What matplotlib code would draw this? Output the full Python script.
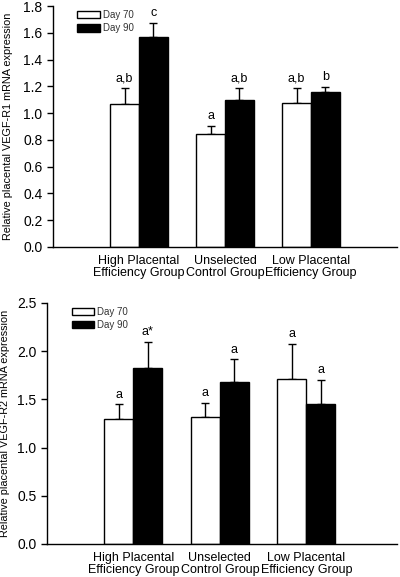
import numpy as np
import matplotlib.pyplot as plt

# ==============================
# Data
# ==============================
groups = ["High Placental\nEfficiency Group",
          "Unselected\nControl Group",
          "Low Placental\nEfficiency Group"]
series = ["Day 70", "Day 90"]

r1_day70 = [1.065, 0.845, 1.075]
r1_day70_err = [0.12, 0.06, 0.11]
r1_day90 = [1.565, 1.095, 1.155]
r1_day90_err = [0.11, 0.09, 0.04]
r1_letters_70 = ["a,b", "a", "a,b"]
r1_letters_90 = ["c", "a,b", "b"]

r2_day70 = [1.30, 1.32, 1.715]
r2_day70_err = [0.15, 0.145, 0.36]
r2_day90 = [1.83, 1.68, 1.455]
r2_day90_err = [0.265, 0.235, 0.25]
r2_letters_70 = ["a", "a", "a"]
r2_letters_90 = ["a*", "a", "a"]

plt.rcParams['font.family'] = ['Liberation Sans', 'DejaVu Sans']


def draw_panel(ax, v70, e70, v90, e90, l70, l90, ymax, ystep, ylabel, xmax):
    x = np.arange(1, len(groups) + 1)
    w = 0.335
    ax.bar(x - w / 2, v70, w, color="white", edgecolor="black",
           linewidth=1, label=series[0], zorder=2)
    ax.bar(x + w / 2, v90, w, color="black", edgecolor="black",
           linewidth=1, label=series[1], zorder=2)
    # upper error bars only
    ax.errorbar(x - w / 2, v70, yerr=[np.zeros(len(x)), e70], fmt="none",
                ecolor="black", elinewidth=1, capsize=2.6, capthick=1, zorder=1)
    ax.errorbar(x + w / 2, v90, yerr=[np.zeros(len(x)), e90], fmt="none",
                ecolor="black", elinewidth=1, capsize=2.6, capthick=1, zorder=1)
    off = ymax * 0.015
    for xi, v, e, t in zip(x - w / 2, v70, e70, l70):
        ax.text(xi, v + e + off, t, ha="center", va="bottom", fontsize=9)
    for xi, v, e, t in zip(x + w / 2, v90, e90, l90):
        ax.text(xi, v + e + off, t, ha="center", va="bottom", fontsize=9)

    ax.set_xlim(0, xmax)
    ax.set_ylim(0, ymax)
    ticks = np.arange(0, ymax + ystep / 2, ystep)
    ax.set_yticks(ticks)
    ax.set_yticklabels([f"{t:.1f}" for t in ticks])
    ax.set_xticks(x)
    ax.set_xticklabels(groups, fontsize=9, linespacing=1.0)
    ax.tick_params(axis="x", length=0, pad=6)
    ax.tick_params(axis="y", labelsize=10, length=4, width=1, direction="out")
    ax.spines["top"].set_visible(False)
    ax.spines["right"].set_visible(False)
    ax.spines["left"].set_linewidth(1)
    ax.spines["bottom"].set_linewidth(1)
    ax.set_ylabel(ylabel, fontsize=7.8)
    ax.legend(loc="upper left", bbox_to_anchor=(0.045, 1.02), frameon=False,
              fontsize=7, handlelength=2.3, handleheight=0.75,
              labelspacing=0.35, handletextpad=0.3, labelcolor="#333333")


fig = plt.figure(figsize=(4.0, 5.77), dpi=100)
ax1 = fig.add_axes([0.1325, 0.572, 0.86, 0.4176])
ax2 = fig.add_axes([0.1175, 0.0572, 0.875, 0.4177])

draw_panel(ax1, r1_day70, r1_day70_err, r1_day90, r1_day90_err,
           r1_letters_70, r1_letters_90, 1.8, 0.2,
           "Relative placental VEGF-R1 mRNA expression", 4.0)
draw_panel(ax2, r2_day70, r2_day70_err, r2_day90, r2_day90_err,
           r2_letters_70, r2_letters_90, 2.5, 0.5,
           "Relative placental VEGF-R2 mRNA expression", 4.05)

ax1.yaxis.set_label_coords(-0.115, 0.5)
ax2.yaxis.set_label_coords(-0.105, 0.5)

fig.savefig("out.png", dpi=100)
